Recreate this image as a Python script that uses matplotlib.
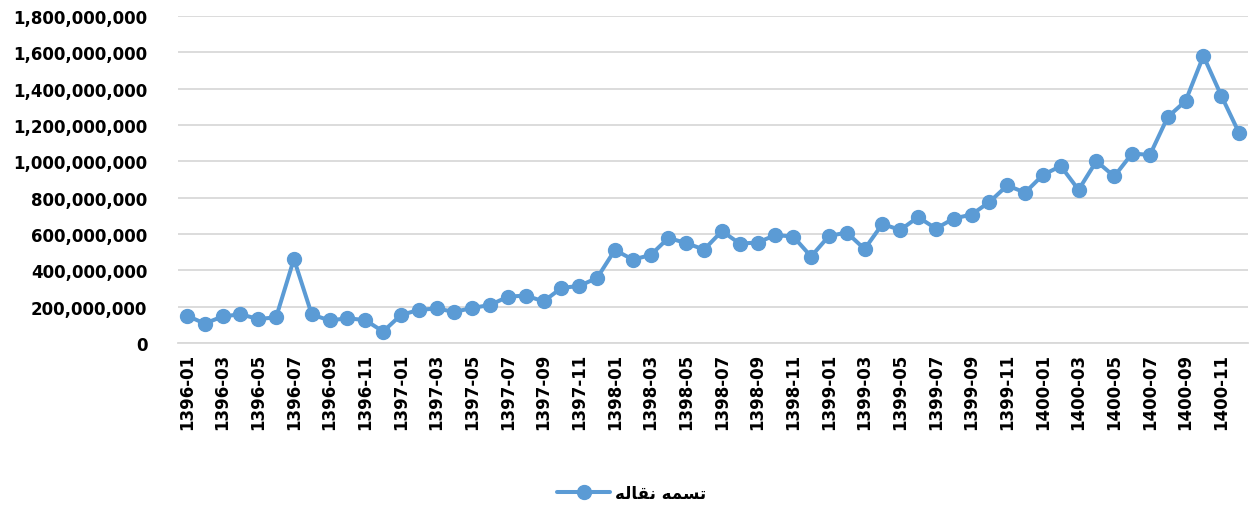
import numpy as np
import matplotlib
matplotlib.use("Agg")
import matplotlib.pyplot as plt
from matplotlib.ticker import FuncFormatter

# ------------------------------------------------------------
#  data : monthly values 1396-01 .. 1400-12
# ------------------------------------------------------------
years  = [1396, 1397, 1398, 1399, 1400]
months = [f"{y}-{m:02d}" for y in years for m in range(1, 13)]

values_m = [
    # 1396
    150, 107, 146, 158, 132, 141, 462, 157, 124, 136, 126, 63,
    # 1397
    154, 182, 190, 171, 193, 209, 255, 261, 229, 303, 314, 358,
    # 1398
    512, 459, 484, 578, 550, 514, 616, 547, 553, 594, 586, 476,
    # 1399
    589, 608, 517, 655, 622, 693, 630, 685, 707, 776, 867, 828,
    # 1400
    925, 974, 843, 1001, 917, 1043, 1035, 1244, 1332, 1580, 1362, 1156,
]
values = np.array(values_m) * 1e6

# legend label "تسمه نقاله" in shaped presentation forms (visual order)
series_name = "\ufeea\ufedf\ufe8e\ufed8\ufee7 \ufeea\ufee4\ufeb4\ufe97"

blue = '#5B9BD5'
grid = '#D9D9D9'

fig = plt.figure(figsize=(12.51, 5.06), dpi=100)
ax = fig.add_axes([0.1423, 0.3202, 0.8553, 0.6462])

x = np.arange(len(months))
ax.plot(x, values, '-o', color=blue, lw=2.9, ms=10, label=series_name,
        solid_capstyle='round', zorder=3)

ax.set_xlim(-0.5, len(months) - 0.5)
ax.set_ylim(0, 1.8e9)
ax.set_yticks(np.arange(0, 1.8e9 + 1, 2e8))
ax.yaxis.set_major_formatter(FuncFormatter(lambda v, p: f"{v:,.0f}"))
ax.grid(axis='y', color=grid, lw=1.3)
ax.set_axisbelow(True)

ax.set_xticks(x[::2])
ax.set_xticklabels(months[::2], rotation=90)

for s in ['top', 'right', 'left']:
    ax.spines[s].set_visible(False)
ax.spines['bottom'].set_color(grid)
ax.spines['bottom'].set_linewidth(1.3)
ax.tick_params(axis='both', length=0, labelsize=12)
ax.tick_params(axis='y', pad=22)
ax.tick_params(axis='x', pad=7)
for t in ax.get_xticklabels() + ax.get_yticklabels():
    t.set_fontweight('bold')

fig.legend(loc='center', bbox_to_anchor=(0.505, 0.024), frameon=False,
           prop={'size': 12, 'weight': 'bold'}, handlelength=3.2,
           handletextpad=0.3)

fig.savefig('out.png', dpi=100)
